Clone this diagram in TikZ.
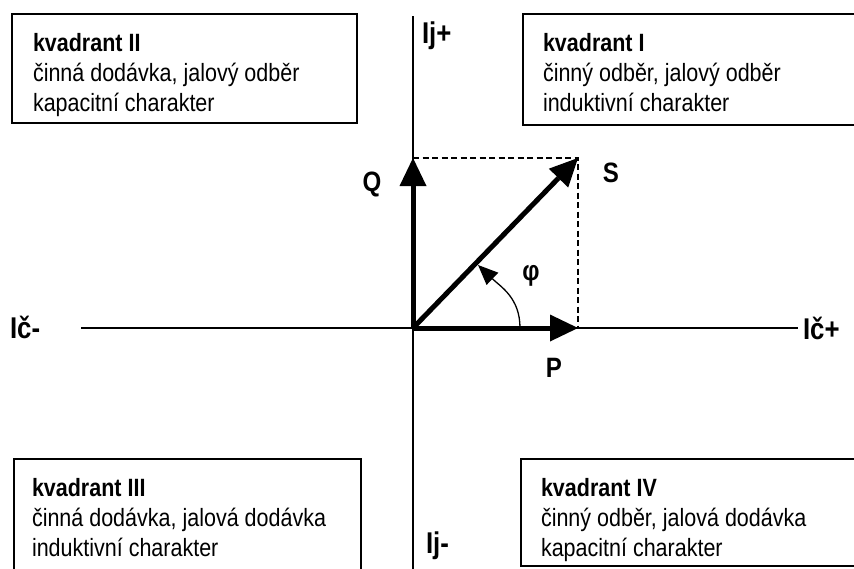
\documentclass[tikz,border=0pt]{standalone}
\usepackage{fontspec}
\newfontfamily\nar{Liberation Sans}[FakeStretch=0.86]
\usetikzlibrary{arrows.meta}
\tikzset{
  qbox/.style={draw=black, line width=1.5pt, inner sep=0pt, outer sep=0pt, fill=white},
  qtext/.style={font=\nar\fontsize{25}{30}\selectfont, inner sep=0pt, outer sep=0pt, anchor=base west},
  axlab/.style={font=\nar\bfseries\fontsize{30}{36}\selectfont, inner sep=0pt, outer sep=0pt, anchor=base west},
  veclab/.style={font=\nar\bfseries\fontsize{28}{34}\selectfont, inner sep=0pt, outer sep=0pt},
  axis/.style={line width=1.3pt},
  vec/.style={line width=5pt, -{Triangle[length=28pt,width=27pt,line width=0pt]}},
  dashline/.style={line width=1.3pt, dash pattern=on 6pt off 3.5pt},
  arcline/.style={line width=1.3pt, -{Triangle[length=20pt,width=17pt,line width=0pt]}}
}
\begin{document}
\begin{tikzpicture}[x=1pt,y=-1pt]
\clip (0,0) rectangle (854,568);
\fill[white] (0,0) rectangle (854,568);
% axes
\coordinate (xl) at (81,328);
\coordinate (xr) at (798,328);
\coordinate (yt) at (413,16);
\coordinate (yb) at (413,572);
\coordinate (O) at (413,328);
\coordinate (Qt) at (413,158);
\coordinate (Pt) at (578,328);
\coordinate (St) at (578,158);
\coordinate (a0) at (520,328);
\coordinate (a1) at (478,265);
\draw[axis] (xl) -- (xr);
\draw[axis] (yt) -- (yb);
% boxes
\node[qbox, minimum width=345pt, minimum height=109pt, anchor=north west] (b2) at (12,14) {};
\node[qbox, minimum width=350pt, minimum height=111pt, anchor=north west] (b1) at (523,14) {};
\node[qbox, minimum width=347pt, minimum height=130pt, anchor=north west] (b3) at (14,459) {};
\node[qbox, minimum width=350pt, minimum height=107pt, anchor=north west] (b4) at (521,459) {};
\node[qtext] (t2) at (33,51) {\begin{tabular}[t]{@{}l@{}}\textbf{kvadrant II}\\činná dodávka, jalový odběr\\kapacitní charakter\end{tabular}};
\node[qtext] (t1) at (543,51) {\begin{tabular}[t]{@{}l@{}}\textbf{kvadrant I}\\činný odběr, jalový odběr\\induktivní charakter\end{tabular}};
\node[qtext] (t3) at (32,496) {\begin{tabular}[t]{@{}l@{}}\textbf{kvadrant III}\\činná dodávka, jalová dodávka\\induktivní charakter\end{tabular}};
\node[qtext] (t4) at (541,496) {\begin{tabular}[t]{@{}l@{}}\textbf{kvadrant IV}\\činný odběr, jalová dodávka\\kapacitní charakter\end{tabular}};
% axis labels
\node[axlab] (ljp) at (422,43) {Ij+};
\node[axlab] (ljm) at (426,553) {Ij-};
\node[axlab] (lcm) at (10,338) {Ič-};
\node[axlab] (lcp) at (803,339) {Ič+};
% dashed projections
\draw[dashline] (Qt) -- (St) -- (Pt);
% vectors
\draw[vec] (O) -- (Qt);
\draw[vec] (O) -- (Pt);
\draw[vec] (O) -- (St);
% angle
\draw[arcline] (a0) .. controls (520,298) and (501,287) .. (a1);
% vector labels
\node[veclab, anchor=base] (lQ) at (372,191) {Q};
\node[veclab, anchor=base] (lS) at (611,182) {S};
\node[veclab, anchor=base] (lP) at (554,377) {P};
\node[veclab] (lphi) at (531,276) {φ};
\end{tikzpicture}
\end{document}
